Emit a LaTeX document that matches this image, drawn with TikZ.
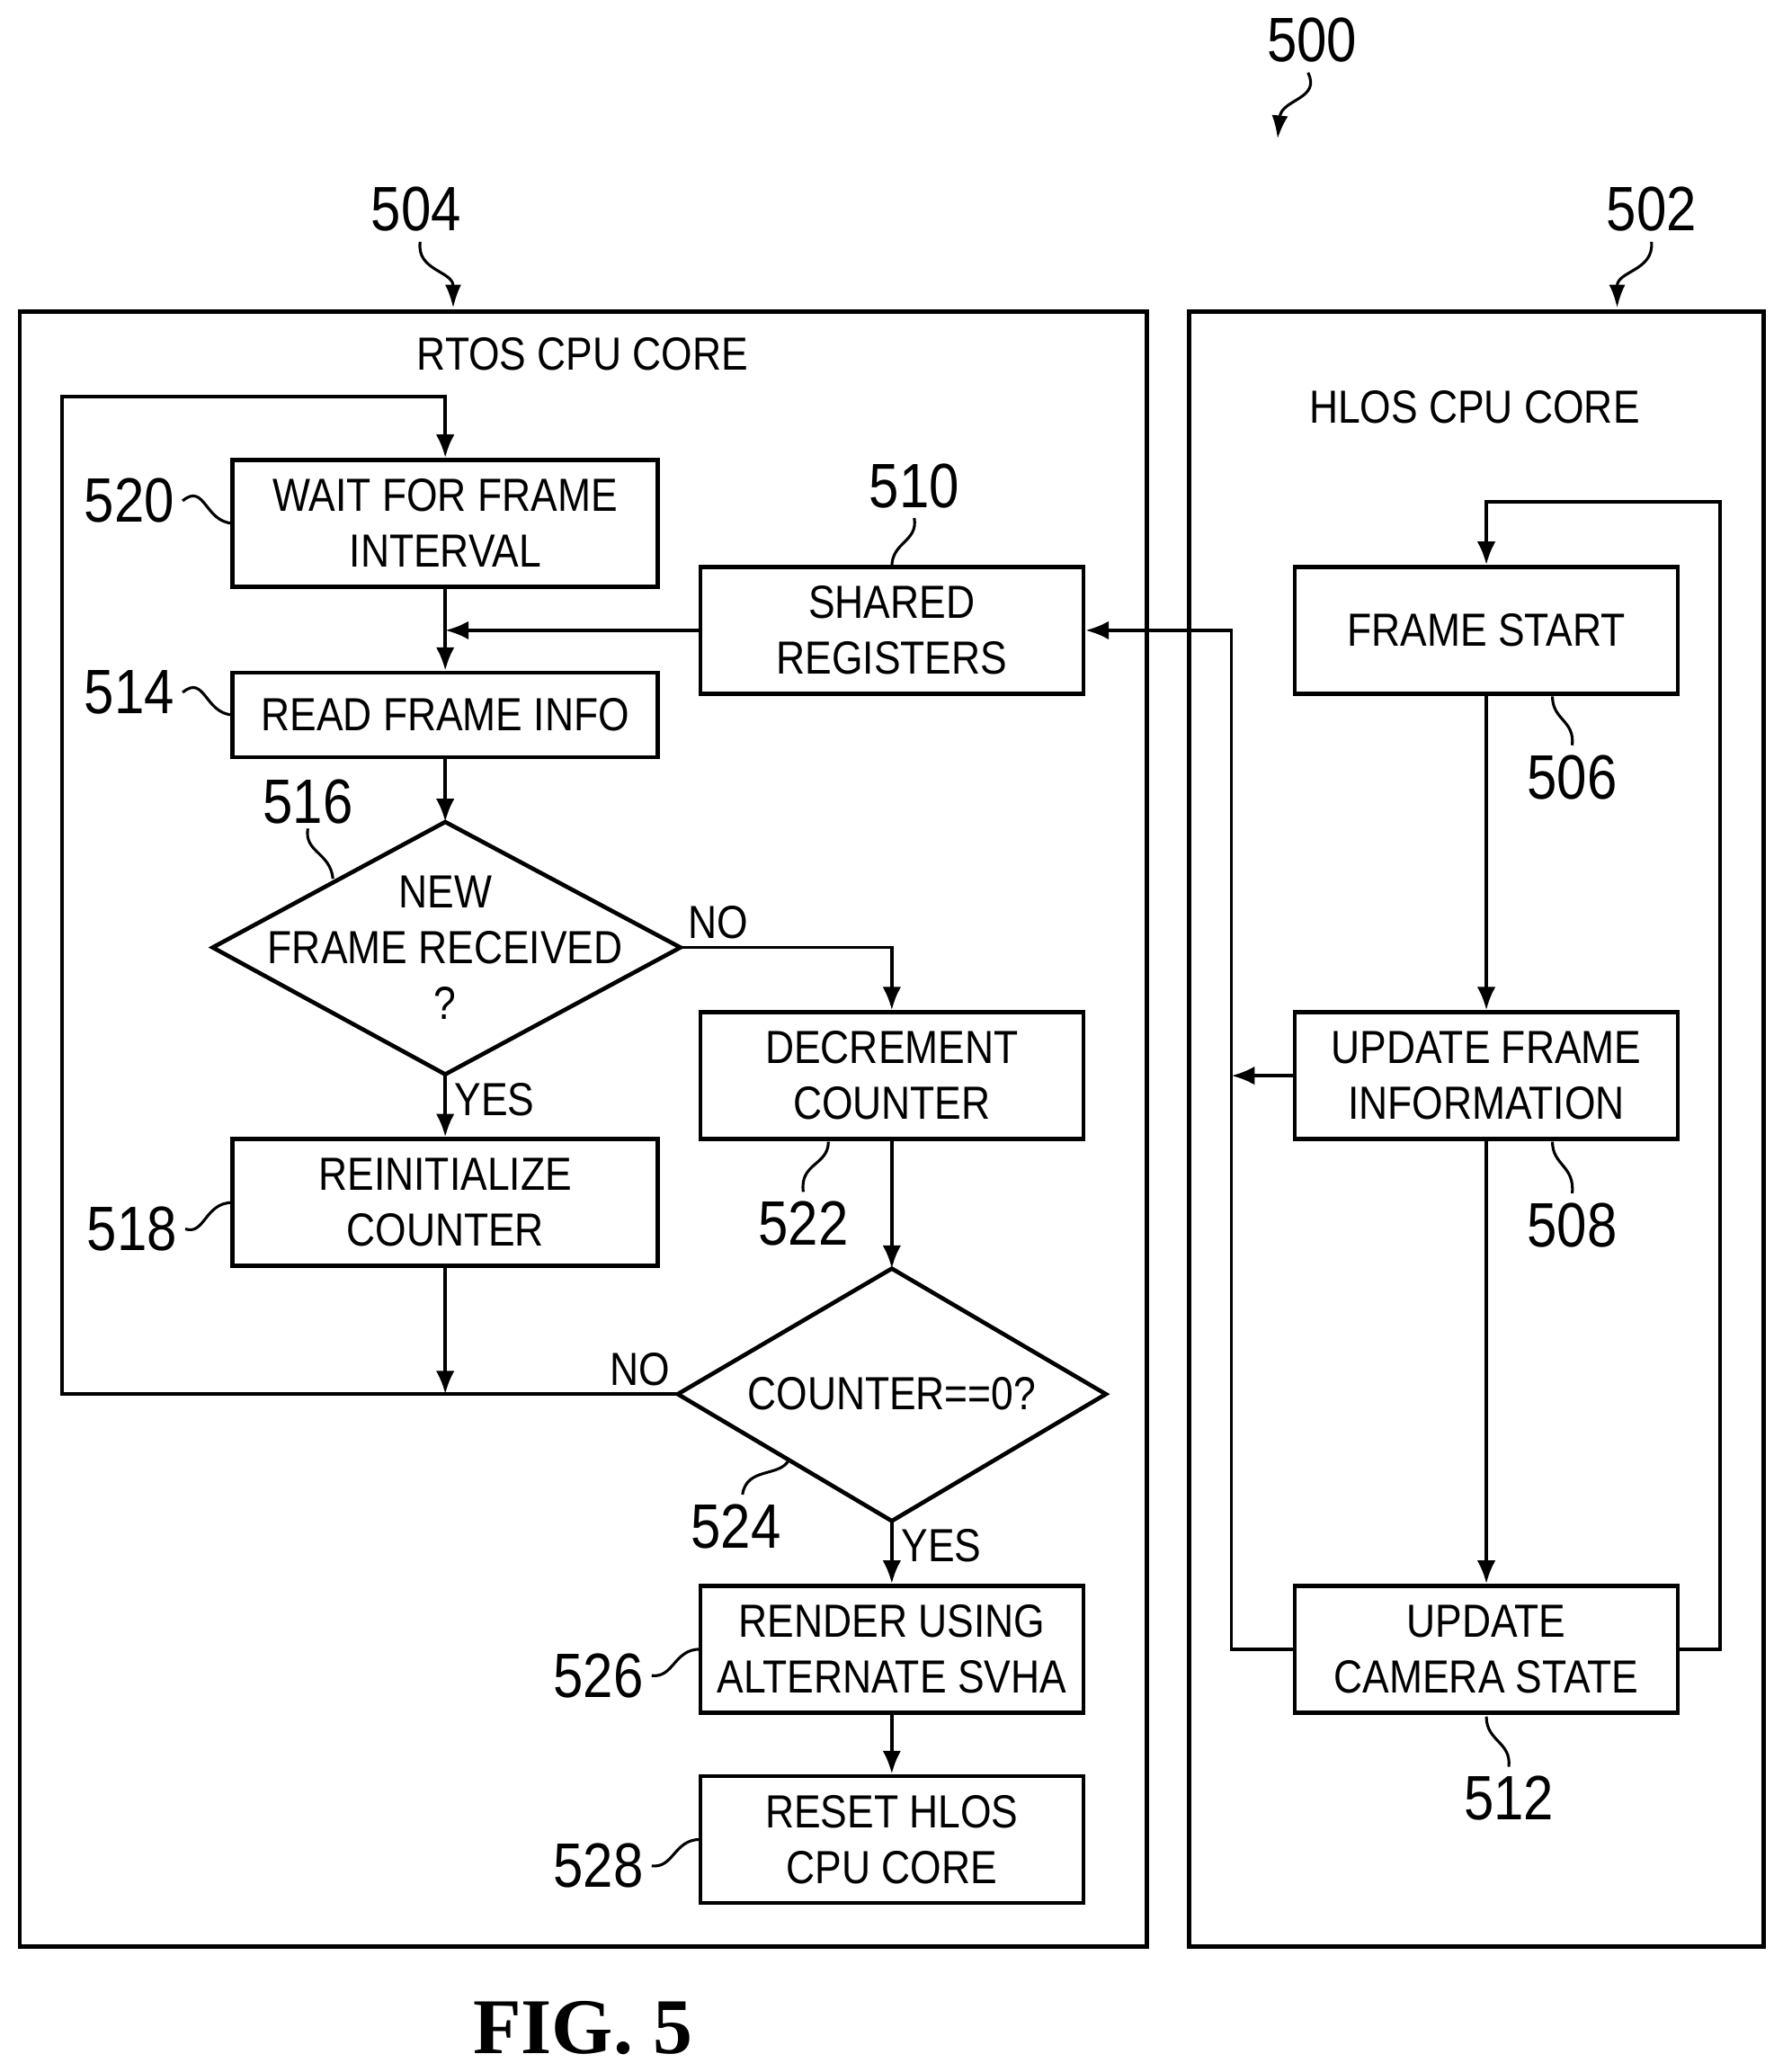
\documentclass[tikz,border=0pt]{standalone}
\usepackage{fontspec}
\setmainfont{Liberation Sans}[FakeStretch=0.86]
\newfontfamily\figfont{Liberation Serif}
\usetikzlibrary{arrows.meta}

\tikzset{
  stepbox/.style={draw, line width=1.8pt, align=center, minimum width=6.44cm, minimum height=1.92cm, inner sep=0pt},
  smallbox/.style={stepbox, minimum width=5.8cm},
  decision/.style={line width=1.8pt, line join=miter},
  flow/.style={line width=1.5pt, -{Latex[length=10pt,width=8pt]}},
  link/.style={line width=1.5pt},
  refnum/.style={font=\fontsize{27}{30}\selectfont},
  lead/.style={line width=1.2pt},
  lbl/.style={font=\fontsize{20}{24}\selectfont}
}

\begin{document}
\begin{tikzpicture}[x=0.02cm, y=-0.02cm, font=\fontsize{20}{24}\selectfont]
    \useasboundingbox (0,0) rectangle (1349,1568);

    % core frames
    \draw[line width=1.8pt] (15,236) rectangle (868,1473);
    \draw[line width=1.8pt] (900,236) rectangle (1335,1473);
    \node (rtos) at (441,268) {RTOS CPU CORE};
    \node (hlos) at (1116,308) {HLOS CPU CORE};

    % RTOS side
    \node[stepbox] (wait) at (337,396) {WAIT FOR FRAME\\INTERVAL};
    \node[smallbox] (shared) at (675,477) {SHARED\\REGISTERS};
    \node[stepbox, minimum height=1.28cm] (read) at (337,541) {READ FRAME INFO};
    \coordinate (newN) at (337,622);
    \coordinate (newE) at (515,717);
    \coordinate (newS) at (337,813);
    \coordinate (newW) at (161,717);
    \draw[decision] (newN) -- (newE) -- (newS) -- (newW) -- cycle;
    \node[align=center] (newf) at (337,717) {NEW\\FRAME RECEIVED\\?};
    \node[stepbox] (reinit) at (337,910) {REINITIALIZE\\COUNTER};
    \node[smallbox] (decr) at (675,814) {DECREMENT\\COUNTER};
    \coordinate (zeroN) at (675,960);
    \coordinate (zeroE) at (837,1055);
    \coordinate (zeroS) at (675,1151);
    \coordinate (zeroW) at (513,1055);
    \draw[decision] (zeroN) -- (zeroE) -- (zeroS) -- (zeroW) -- cycle;
    \node (zero) at (675,1055) {COUNTER==0?};
    \node[smallbox] (render) at (675,1248) {RENDER USING\\ALTERNATE SVHA};
    \node[smallbox] (reset) at (675,1392) {RESET HLOS\\CPU CORE};

    % HLOS side
    \node[smallbox] (fstart) at (1125,477) {FRAME START};
    \node[smallbox] (upinfo) at (1125,814) {UPDATE FRAME\\INFORMATION};
    \node[smallbox] (camst) at (1125,1248) {UPDATE\\CAMERA STATE};

    \coordinate (merge) at (337,477);
    \coordinate (join) at (337,1055);
    \coordinate (bus) at (932,814);

    % RTOS connectors
    \draw[link] (wait) -- (merge);
    \draw[flow] (merge) -- (read);
    \draw[flow] (shared) -- (merge);
    \draw[flow] (read) -- (newN);
    \draw[flow] (newS) -- node[right, lbl, pos=0.4] {YES} (reinit);
    \draw[flow] (newE) -| (decr);
    \node[lbl, anchor=south west] (no1) at (newE) {NO};
    \draw[flow] (decr) -- (zeroN);
    \draw[flow] (zeroS) -- node[right, lbl, pos=0.4] {YES} (render);
    \draw[flow] (render) -- (reset);
    \draw[flow] (reinit) -- (join);
    \draw[flow] (zeroW) -- (47,1055) -- (47,300) -| (wait.north);
    \node[lbl, anchor=south east] (no2) at (zeroW) {NO};

    % HLOS connectors
    \draw[flow] (fstart) -- (upinfo);
    \draw[flow] (upinfo) -- (camst);
    \draw[flow] (upinfo) -- (bus);
    \draw[flow] (camst.west) -- (932,1248) |- (shared.east);
    \draw[flow] (camst.east) -- (1302,1248) |- (1125,380) -- (fstart.north);

    % reference numerals
    \node[refnum] (n500) at (993,30) {500};
    \draw[lead, -{Latex[length=10pt,width=7pt]}] (990,55) .. controls (1000,75) and (970,75) .. (967,105);
    \node[refnum] (n504) at (315,158) {504};
    \draw[lead, -{Latex[length=10pt,width=7pt]}] (318,183) .. controls (315,205) and (343,205) .. (343,233);
    \node[refnum] (n502) at (1250,158) {502};
    \draw[lead, -{Latex[length=10pt,width=7pt]}] (1250,183) .. controls (1252,205) and (1224,205) .. (1224,233);

    \node[refnum] (n520) at (98,379) {520};
    \draw[lead] (n520.east) .. controls (155,365) and (155,395) .. (176,396);
    \node[refnum] (n514) at (98,524) {514};
    \draw[lead] (n514.east) .. controls (155,510) and (155,540) .. (176,541);
    \node[refnum] (n516) at (233,607) {516};
    \draw[lead] (233,627) .. controls (230,645) and (250,645) .. (252,665);
    \node[refnum] (n518) at (100,930) {518};
    \draw[lead] (n518.east) .. controls (155,935) and (155,910) .. (176,910);
    \node[refnum] (n510) at (692,368) {510};
    \draw[lead] (692,392) .. controls (695,410) and (675,410) .. (675,429);
    \node[refnum] (n522) at (608,926) {522};
    \draw[lead] (608,902) .. controls (605,880) and (627,882) .. (627,864);
    \node[refnum] (n524) at (557,1155) {524};
    \draw[lead] (562,1131) .. controls (565,1110) and (590,1118) .. (597,1105);
    \node[refnum] (n526) at (453,1268) {526};
    \draw[lead] (n526.east) .. controls (510,1270) and (510,1248) .. (530,1248);
    \node[refnum] (n528) at (453,1412) {528};
    \draw[lead] (n528.east) .. controls (510,1414) and (510,1392) .. (530,1392);
    \node[refnum] (n506) at (1190,588) {506};
    \draw[lead] (1190,564) .. controls (1192,545) and (1175,545) .. (1175,527);
    \node[refnum] (n508) at (1190,927) {508};
    \draw[lead] (1190,903) .. controls (1192,882) and (1175,882) .. (1175,864);
    \node[refnum] (n512) at (1142,1361) {512};
    \draw[lead] (1142,1337) .. controls (1144,1318) and (1125,1318) .. (1125,1299);

    \node[font=\figfont\bfseries\fontsize{34}{38}\selectfont] (fig) at (441,1535) {FIG. 5};
\end{tikzpicture}
\end{document}
